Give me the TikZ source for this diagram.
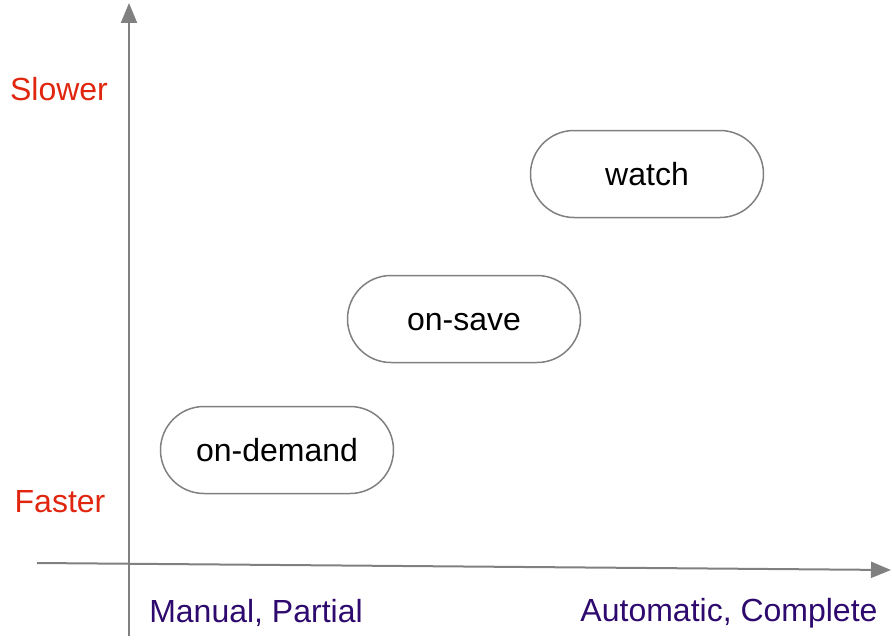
\documentclass[tikz,border=0pt]{standalone}
\usepackage{fontspec}
\setmainfont{Liberation Sans}
\usepackage{xcolor}
\usetikzlibrary{arrows.meta}

\definecolor{axisgray}{HTML}{808080}
\definecolor{speedred}{HTML}{E0260E}
\definecolor{modepurple}{HTML}{2E0A6E}

\begin{document}
\begin{tikzpicture}[x=1pt, y=-1pt,
    mode/.style={rectangle, rounded corners=43.5pt, draw=axisgray, line width=1.5pt, minimum width=233pt, minimum height=87pt, text height=23pt, text depth=0pt, font=\fontsize{32}{38}\selectfont},
    speed/.style={text=speedred, font=\fontsize{32}{38}\selectfont},
    kind/.style={text=modepurple, font=\fontsize{32}{38}\selectfont},
    axis/.style={draw=axisgray, line width=2pt, -{Triangle[width=16pt,length=20pt]}}]
    \useasboundingbox (0, 0) rectangle (892, 642);

    \coordinate (ybot) at (129, 636);
    \coordinate (ytop) at (129, 3);
    \coordinate (xleft) at (37, 563);
    \coordinate (xright) at (891, 570);

    \draw[axis] (ybot) to (ytop);
    \draw[axis] (xleft) to (xright);

    \node (watch) at (647, 174) [mode] {watch};
    \node (onsave) at (464, 319) [mode] {on-save};
    \node (ondemand) at (277, 450) [mode] {on-demand};

    \node (slower) at (59, 89) [speed] {Slower};
    \node (faster) at (60, 502) [speed] {Faster};
    \node (manual) at (256, 613) [kind] {Manual, Partial};
    \node (auto) at (729, 613) [kind] {Automatic, Complete};
\end{tikzpicture}
\end{document}
